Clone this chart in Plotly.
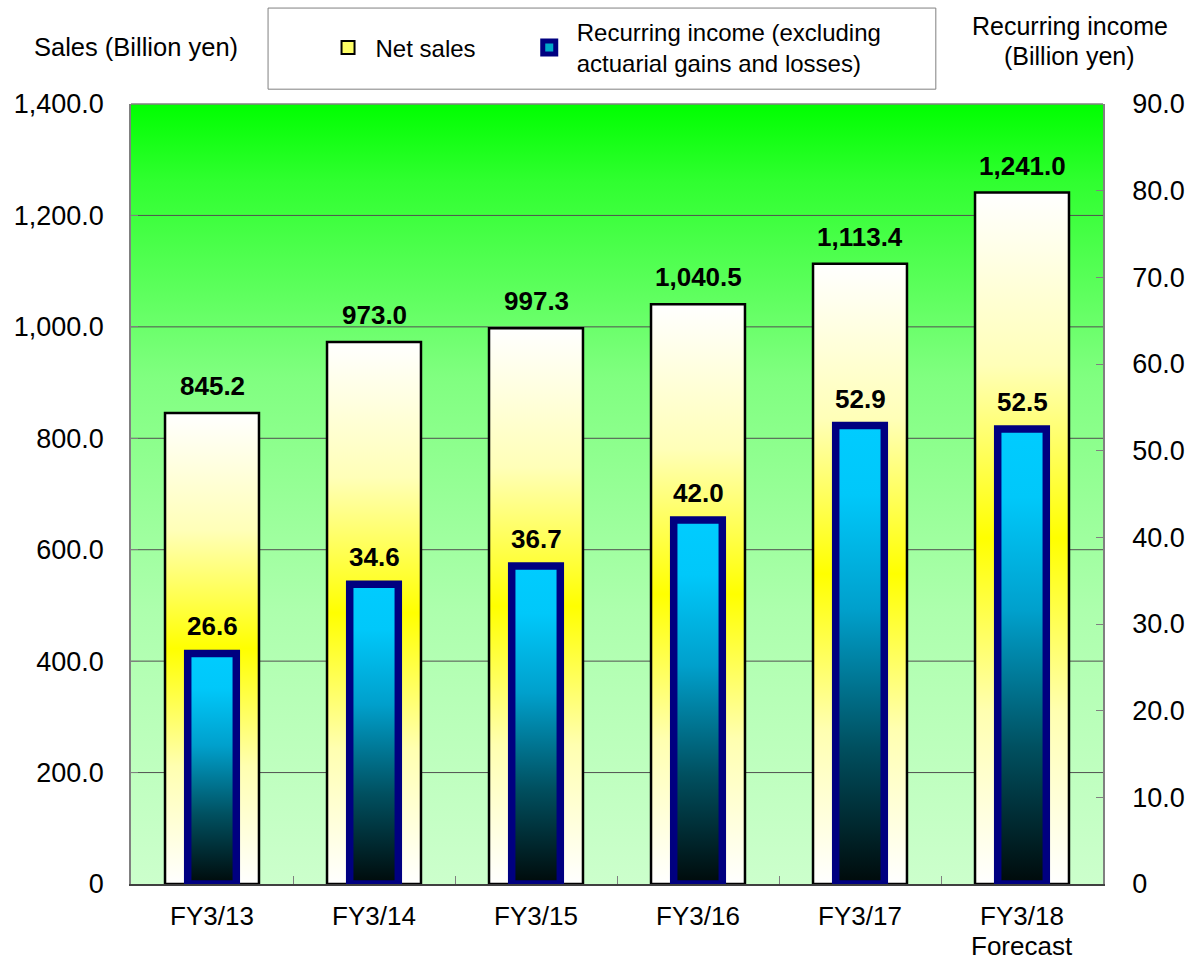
import plotly.graph_objects as go

# Fiscal years and results (billion yen)
categories = ["FY3/13", "FY3/14", "FY3/15", "FY3/16", "FY3/17", "FY3/18<br>Forecast"]
net_sales = [845.2, 973.0, 997.3, 1040.5, 1113.4, 1241.0]
recurring_income = [26.6, 34.6, 36.7, 42.0, 52.9, 52.5]

sales_ticks = [0, 200, 400, 600, 800, 1000, 1200, 1400]
income_ticks = [0, 10, 20, 30, 40, 50, 60, 70, 80, 90]

FONT = "Liberation Sans, Arial, sans-serif"
SALES_W = 0.58
INCOME_W = 0.30

idx = list(range(len(categories)))
x_lo, x_hi = -0.5, len(categories) - 0.5

# category labels: first line as tick text, any second line set just below it
first_lines = [c.split("<br>")[0] for c in categories]
second_lines = [(i, c.split("<br>")[1]) for i, c in zip(idx, categories) if "<br>" in c]

fig = go.Figure()

# plot-area background with a vertical green gradient
fig.add_trace(go.Scatter(
    x=[x_lo, x_hi, x_hi, x_lo, x_lo],
    y=[sales_ticks[0], sales_ticks[0], sales_ticks[-1], sales_ticks[-1], sales_ticks[0]],
    mode="lines", fill="toself", line=dict(width=0),
    fillgradient=dict(type="vertical", colorscale=[
        [0.0, "#CCFFCC"], [0.35, "#ADFFAD"], [0.65, "#80FF80"],
        [0.9, "#30FF30"], [1.0, "#00FF00"]]),
    hoverinfo="skip", showlegend=False,
))

# horizontal gridlines on the sales scale
gx, gy = [], []
for t in sales_ticks[1:-1]:
    gx += [x_lo, x_hi, None]
    gy += [t, t, None]
fig.add_trace(go.Scatter(x=gx, y=gy, mode="lines",
                         line=dict(color="#505050", width=1),
                         hoverinfo="skip", showlegend=False))

# net sales bars: white-yellow-white gradient, black outline
for i, v in zip(idx, net_sales):
    fig.add_trace(go.Scatter(
        x=[i - SALES_W / 2, i + SALES_W / 2, i + SALES_W / 2, i - SALES_W / 2, i - SALES_W / 2],
        y=[0, 0, v, v, 0],
        mode="lines", fill="toself",
        line=dict(color="black", width=2.5),
        fillgradient=dict(type="vertical", colorscale=[
            [0.0, "#FFFFFF"], [0.25, "#FFFFB0"], [0.5, "#FFFF00"],
            [0.75, "#FFFFB8"], [1.0, "#FFFFFF"]]),
        hoverinfo="skip", showlegend=False,
    ))

# recurring income bars on the secondary axis: cyan-to-black gradient, navy outline
for i, v in zip(idx, recurring_income):
    fig.add_trace(go.Scatter(
        x=[i - INCOME_W / 2, i + INCOME_W / 2, i + INCOME_W / 2, i - INCOME_W / 2, i - INCOME_W / 2],
        y=[0, 0, v, v, 0], yaxis="y2",
        mode="lines", fill="toself",
        line=dict(color="#000080", width=7.5),
        fillgradient=dict(type="vertical", colorscale=[
            [0.0, "#000A0A"], [0.3, "#005060"], [0.6, "#00A0CC"],
            [0.85, "#00C8FA"], [1.0, "#00CCFF"]]),
        hoverinfo="skip", showlegend=False,
    ))

# legend entries, one legend box each so they can sit side by side
fig.add_trace(go.Scatter(
    x=[None], y=[None], mode="markers", name="Net sales", legend="legend",
    marker=dict(symbol="square", size=13, color="#FFFF66",
                line=dict(color="black", width=2)),
))
fig.add_trace(go.Scatter(
    x=[None], y=[None], mode="markers", yaxis="y2", legend="legend2",
    name="Recurring income (excluding<br>actuarial gains and losses)",
    marker=dict(symbol="square", size=13, color="#00A8C8",
                line=dict(color="#000080", width=10)),
))

label_font = dict(family=FONT, size=26, color="black", weight="bold")
annotations = []
for i, v in zip(idx, net_sales):
    annotations.append(dict(x=i, y=v, xref="x", yref="y", text=f"{v:,.1f}",
                            showarrow=False, xanchor="center", yanchor="bottom",
                            yshift=10, font=label_font))
for i, v in zip(idx, recurring_income):
    annotations.append(dict(x=i, y=v, xref="x", yref="y2", text=f"{v:.1f}",
                            showarrow=False, xanchor="center", yanchor="bottom",
                            yshift=10, font=label_font))
for i, txt in second_lines:
    annotations.append(dict(x=i, y=0, xref="x", yref="y", text=txt,
                            showarrow=False, xanchor="center", yanchor="middle",
                            yshift=-62, font=dict(size=26)))

annotations += [
    dict(text="Sales (Billion yen)", xref="paper", yref="paper",
         x=0.005, y=1.073, xanchor="center", yanchor="middle",
         showarrow=False, font=dict(size=25.5)),
    dict(text="Recurring income", xref="paper", yref="paper",
         x=0.966, y=1.1, xanchor="center", yanchor="middle",
         showarrow=False, font=dict(size=25)),
    dict(text="(Billion yen)", xref="paper", yref="paper",
         x=0.966, y=1.0615, xanchor="center", yanchor="middle",
         showarrow=False, font=dict(size=25)),
]

legend_common = dict(orientation="h", xanchor="left", yanchor="middle",
                     bgcolor="rgba(0,0,0,0)", borderwidth=0,
                     font=dict(family=FONT, size=24), itemsizing="trace",
                     itemwidth=45)

fig.update_layout(
    width=1185, height=962,
    margin=dict(l=131, r=82, t=104, b=78, autoexpand=False),
    paper_bgcolor="white", plot_bgcolor="white",
    font=dict(family=FONT, size=27, color="black"),
    xaxis=dict(
        range=[x_lo, x_hi], tickvals=idx, ticktext=first_lines,
        showgrid=False, zeroline=False, ticks="", automargin=False,
        showline=True, linecolor="#404040", linewidth=1.5,
        tickfont=dict(size=26), ticklabelstandoff=8,
        minor=dict(tickvals=[i + 0.5 for i in idx[:-1]], ticks="inside",
                   ticklen=8, tickcolor="#808080", showgrid=False),
    ),
    yaxis=dict(
        range=[sales_ticks[0], sales_ticks[-1]], tickvals=sales_ticks,
        ticktext=["0"] + [f"{t:,.1f}" for t in sales_ticks[1:]],
        showgrid=False, zeroline=False, automargin=False,
        ticks="inside", ticklen=7, tickcolor="#808080",
        showline=True, linecolor="#808080", linewidth=1.5,
        ticklabelstandoff=20,
    ),
    yaxis2=dict(
        range=[income_ticks[0], income_ticks[-1]], tickvals=income_ticks,
        ticktext=["0"] + [f"{t:.1f}" for t in income_ticks[1:]],
        overlaying="y", side="right", automargin=False,
        showgrid=False, zeroline=False,
        ticks="inside", ticklen=7, tickcolor="#808080",
        showline=True, linecolor="#808080", linewidth=1.5,
        ticklabelstandoff=22,
    ),
    showlegend=True,
    legend=dict(x=0.195, y=1.072, **legend_common),
    legend2=dict(x=0.402, y=1.072, **legend_common),
    shapes=[
        # legend frame
        dict(type="rect", xref="paper", yref="paper",
             x0=0.141, x1=0.828, y0=1.019, y1=1.123,
             line=dict(color="#808080", width=1), fillcolor="white", layer="below"),
        # top border of the plot area
        dict(type="line", xref="x domain", yref="y domain",
             x0=0, x1=1, y0=1, y1=1, line=dict(color="#808080", width=1.5)),
    ],
    annotations=annotations,
)

fig.write_html("out.html")
